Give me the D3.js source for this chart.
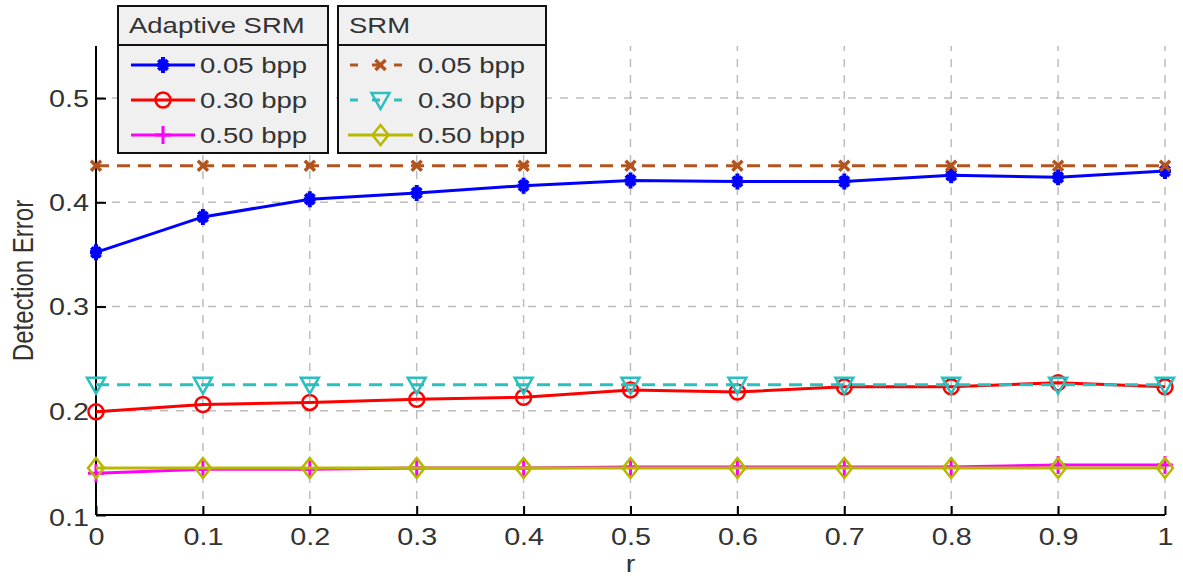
<!DOCTYPE html>
<html><head><meta charset="utf-8">
<script src="https://cdn.jsdelivr.net/npm/d3@7"></script>
<style>
html,body{margin:0;padding:0;background:#fff;}
text{font-family:"Liberation Sans",Arial,sans-serif;fill:#333;}
</style></head>
<body><svg id="c" width="1183" height="581"></svg>
<script>
const rValues = [0,0.1,0.2,0.3,0.4,0.5,0.6,0.7,0.8,0.9,1];
const adaptive005 = [0.352,0.386,0.403,0.409,0.416,0.421,0.420,0.420,0.426,0.424,0.430];
const adaptive030 = [0.199,0.206,0.208,0.211,0.213,0.220,0.218,0.223,0.223,0.227,0.223];
const adaptive050 = [0.140,0.144,0.144,0.145,0.145,0.146,0.146,0.146,0.146,0.148,0.148];
const srm005 = [0.435,0.435,0.435,0.435,0.435,0.435,0.435,0.435,0.435,0.435,0.435];
const srm030 = [0.225,0.225,0.225,0.225,0.225,0.225,0.225,0.225,0.225,0.225,0.225];
const srm050 = [0.145,0.145,0.145,0.145,0.145,0.145,0.145,0.145,0.145,0.145,0.145];
const xTicks = [0,0.1,0.2,0.3,0.4,0.5,0.6,0.7,0.8,0.9,1];
const xTickLabels = ["0","0.1","0.2","0.3","0.4","0.5","0.6","0.7","0.8","0.9","1"];
const yTicks = [0.1,0.2,0.3,0.4,0.5];
const yTickLabels = ["0.1","0.2","0.3","0.4","0.5"];
const legendTitles = ["Adaptive SRM","SRM"];
const legendLabels = ["0.05 bpp","0.30 bpp","0.50 bpp"];

const SX = 1.25;
const svg = d3.select("#c");
const x = d3.scaleLinear().domain([0,1]).range([96,1165]);
const y = d3.scaleLinear().domain([0.1,0.55]).range([515,46]);

// grid
const grid = svg.append("g").attr("stroke","#bdbdbd").attr("stroke-width",1.5).attr("stroke-dasharray","8,8");
grid.selectAll("line.v").data(xTicks.slice(1)).enter().append("line")
  .attr("x1",d=>x(d)).attr("x2",d=>x(d)).attr("y1",y(0.1)).attr("y2",y(0.55));
grid.selectAll("line.h").data(yTicks.slice(1)).enter().append("line")
  .attr("x1",x(0)).attr("x2",x(1)).attr("y1",d=>y(d)).attr("y2",d=>y(d));

// axes
const xAxis = svg.append("g").attr("transform",`translate(0,${y(0.1)})`)
  .call(d3.axisBottom(x).tickValues(xTicks).tickFormat((d,i)=>xTickLabels[i]).tickSizeInner(-9).tickSizeOuter(0));
const yAxis = svg.append("g").attr("transform",`translate(${x(0)},0)`)
  .call(d3.axisLeft(y).tickValues(yTicks).tickFormat((d,i)=>yTickLabels[i]).tickSizeInner(-10).tickSizeOuter(0));
[xAxis,yAxis].forEach(a=>{
  a.select(".domain").attr("stroke","#000").attr("stroke-width",2);
  a.selectAll(".tick line").attr("stroke","#000").attr("stroke-width",2);
});
xAxis.select(".domain").attr("d",`M${x(0)},0H${x(1)}`);
yAxis.select(".domain").attr("d",`M0,${y(0.1)}V${y(0.55)}`);
xAxis.selectAll(".tick text").attr("y",0).attr("dy",null).attr("font-size",23)
  .attr("fill","#333").style("font-family","Liberation Sans, Arial, sans-serif")
  .attr("transform",`translate(0,30) scale(${SX},1)`);
yAxis.selectAll(".tick text").attr("x",0).attr("dy","0.36em").attr("font-size",23)
  .attr("fill","#333").attr("text-anchor","end").style("font-family","Liberation Sans, Arial, sans-serif")
  .attr("transform",`translate(-7,0) scale(${SX},1)`);
yAxis.selectAll(".tick").filter(d=>d===0.1).select("text").attr("transform",`translate(-7,2) scale(${SX},1)`);

// axis labels
svg.append("text").attr("text-anchor","middle").attr("font-size",23)
  .attr("transform",`translate(${x(0.5)},572) scale(${SX},1)`).text("r");
svg.append("text").attr("text-anchor","middle").attr("font-size",24)
  .attr("transform",`translate(33,${(y(0.1)+y(0.55))/2}) rotate(-90) scale(1,${SX})`).text("Detection Error");

// markers
function marker(g, type, cx, cy, color){
  const s = g.append("g").attr("transform",`translate(${cx},${cy})`);
  if(type==="star"){
    s.append("path").attr("d","M-6,0H6M0,-8V8M-4.5,-5L4.5,5M-4.5,5L4.5,-5").attr("stroke",color).attr("stroke-width",4);
    s.append("path").attr("d","M0,-7L5,0L0,7L-5,0Z").attr("fill",color);
  } else if(type==="circle"){
    s.append("circle").attr("r",7.5).attr("fill","none").attr("stroke",color).attr("stroke-width",2.5);
  } else if(type==="plus"){
    s.append("path").attr("d","M-8,0H8M0,-9V9").attr("stroke",color).attr("stroke-width",3);
  } else if(type==="x"){
    s.append("path").attr("d","M-5,-5L5,5M-5,5L5,-5").attr("stroke",color).attr("stroke-width",3.5);
  } else if(type==="tri"){
    s.append("path").attr("d","M-9,-7H9L0,9Z").attr("fill","none").attr("stroke",color).attr("stroke-width",2.5);
  } else if(type==="diamond"){
    s.append("path").attr("d","M0,-10L8,0L0,10L-8,0Z").attr("fill","none").attr("stroke",color).attr("stroke-width",2.5);
  }
}

const series = [
  {vals:srm050, color:"#b8b800", dash:null, m:"diamond"},
  {vals:adaptive050, color:"#ff00ff", dash:null, m:"plus"},
  {vals:adaptive030, color:"#ff0000", dash:null, m:"circle"},
  {vals:srm030, color:"#2bbfbf", dash:"13,8", m:"tri"},
  {vals:adaptive005, color:"#0000ff", dash:null, m:"star"},
  {vals:srm005, color:"#b3541e", dash:"13,8", m:"x"}
];
const line = d3.line().x((d,i)=>x(rValues[i])).y(d=>y(d));
const plot = svg.append("g");
// draw in order: adaptive050 first then srm050 on top
const drawOrder = [series[1], series[0], series[2], series[3], series[4], series[5]];
drawOrder.forEach(s=>{
  const g = plot.append("g");
  g.append("path").datum(s.vals).attr("d",line).attr("fill","none").attr("stroke",s.color)
    .attr("stroke-width",3).attr("stroke-dasharray",s.dash);
  s.vals.forEach((v,i)=>marker(g,s.m,x(rValues[i]),y(v),s.color));
});

// legends
const legends = [
  {title:legendTitles[0], x0:118, x1:328, lx0:131, lx1:195, tx:200, items:[series[4],series[2],series[1]]},
  {title:legendTitles[1], x0:338, x1:546, lx0:348, lx1:413, tx:418, items:[series[5],series[3],series[0]]}
];
const rowsY = [65,100,135];
legends.forEach(L=>{
  const g = svg.append("g");
  g.append("rect").attr("x",L.x0).attr("y",6).attr("width",L.x1-L.x0).attr("height",39)
    .attr("fill","#f0f0f0").attr("stroke","#111").attr("stroke-width",2);
  g.append("rect").attr("x",L.x0).attr("y",45).attr("width",L.x1-L.x0).attr("height",108)
    .attr("fill","#f0f0f0").attr("stroke","#111").attr("stroke-width",2);
  g.append("text").attr("font-size",22).attr("transform",`translate(${L.x0+11},33) scale(${SX},1)`).text(L.title);
  L.items.forEach((s,i)=>{
    const cy = rowsY[i];
    g.append("line").attr("x1",L.lx0).attr("x2",L.lx1).attr("y1",cy).attr("y2",cy)
      .attr("stroke",s.color).attr("stroke-width",3).attr("stroke-dasharray",s.dash?"8,14":null)
      .attr("stroke-dashoffset",s.dash?-2:null);
    marker(g,s.m,(L.lx0+L.lx1)/2,cy,s.color);
    g.append("text").attr("font-size",22).attr("transform",`translate(${L.tx},${cy+8}) scale(${SX},1)`).text(legendLabels[i]);
  });
});
</script></body></html>
